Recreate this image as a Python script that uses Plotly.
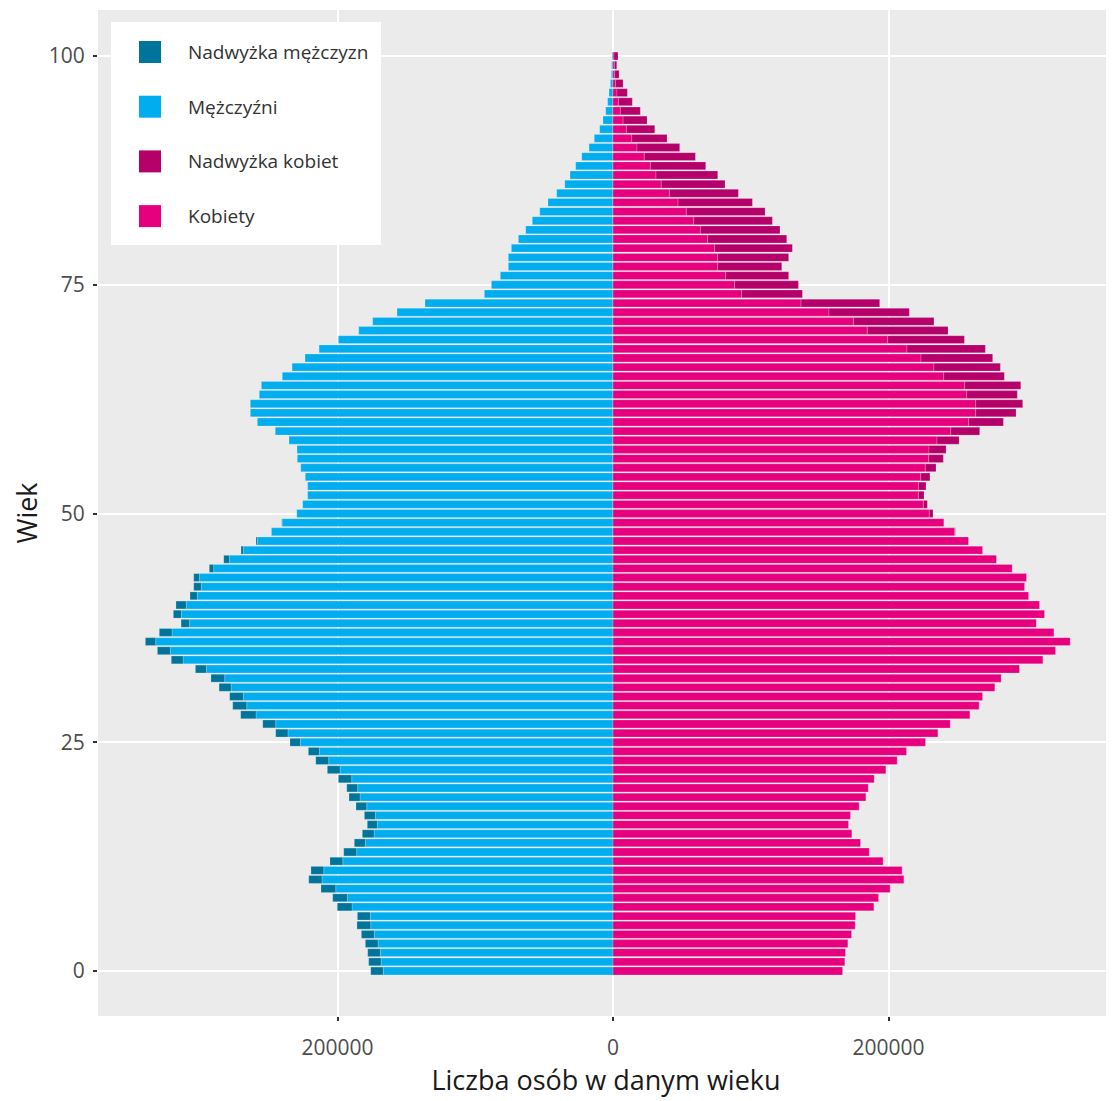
import plotly.graph_objects as go

ages = list(range(0, 101))

men = [175900, 177400, 178100, 179800, 182700, 185900, 185600, 200200, 203500, 212000,
       220900, 219300, 205500, 195500, 187800, 182000, 178400, 180500, 186600, 191700,
       193300, 199400, 207400, 215800, 221200, 234500, 244900, 254300, 270300, 276100,
       278300, 286000, 291900, 303200, 320700, 330800, 339500, 329400, 313600, 319200,
       317300, 307100, 304400, 304400, 293100, 282600, 270100, 259200, 248000, 240500,
       229600, 225300, 221700, 221700, 223400, 226700, 229200, 229400, 235200, 245200,
       258200, 263300, 263300, 256800, 255300, 240100, 233000, 223600, 213400, 199400,
       184600, 174500, 156800, 136500, 93400, 88300, 81800, 76000, 76000, 73800,
       68700, 63400, 58600, 53200, 47200, 40900, 35000, 31200, 27100, 22700,
       17400, 13600, 9700, 7300, 5300, 3900, 2900, 1900, 1200, 1000,
       700]

women = [166800, 168400, 168900, 170600, 173300, 175900, 176200, 189500, 192900, 201300,
         211300, 210000, 196200, 186100, 179800, 173500, 171100, 172500, 178800, 183700,
         185400, 189700, 198200, 206400, 213200, 227000, 236000, 244900, 259200, 265900,
         268400, 277300, 281900, 295200, 312200, 321400, 332000, 320200, 307400, 313400,
         309800, 301800, 298900, 300300, 289900, 278500, 268400, 258200, 248500, 240300,
         232300, 228200, 225800, 227200, 230100, 234500, 239800, 241800, 251200, 266200,
         283400, 292600, 297400, 293500, 296000, 284100, 281200, 275600, 270300, 255100,
         243200, 233000, 215100, 193600, 137500, 134600, 127500, 122500, 127500, 130200,
         126100, 121200, 115700, 110400, 101200, 91000, 81300, 76000, 67300, 59800,
         48400, 39200, 30300, 24700, 19800, 14000, 10400, 7300, 4400, 2700,
         3600]

x_tickvals = [-200000, 0, 200000]
x_ticktext = ["200000", "0", "200000"]
y_tickvals = [0, 25, 50, 75, 100]

series_names = ["Nadwyżka mężczyzn", "Mężczyźni", "Nadwyżka kobiet", "Kobiety"]
colors = {
    "Nadwyżka mężczyzn": "#00759C",
    "Mężczyźni": "#00AEEF",
    "Nadwyżka kobiet": "#B5006A",
    "Kobiety": "#E6007E",
}

base = [min(m, w) for m, w in zip(men, women)]
men_excess = [m - b for m, b in zip(men, base)]
women_excess = [w - b for w, b in zip(women, base)]

fig = go.Figure()
edge = "rgba(255,255,255,0.5)"
common = dict(orientation="h", width=0.86, showlegend=False,
              marker_line_width=0.4, marker_line_color=edge, hoverinfo="x+y+name")
fig.add_trace(go.Bar(y=ages, x=[-b for b in base], name="Mężczyźni",
                     marker_color=colors["Mężczyźni"], **common))
fig.add_trace(go.Bar(y=ages, x=[-e for e in men_excess], name="Nadwyżka mężczyzn",
                     marker_color=colors["Nadwyżka mężczyzn"], **common))
fig.add_trace(go.Bar(y=ages, x=base, name="Kobiety",
                     marker_color=colors["Kobiety"], **common))
fig.add_trace(go.Bar(y=ages, x=women_excess, name="Nadwyżka kobiet",
                     marker_color=colors["Nadwyżka kobiet"], **common))

# Page has an 8px body margin; plot area on screen spans x 98..1114, y 10..1016
OFF = 8
L, R, T, B = 98 - OFF, 1114 - OFF, 10 - OFF, 1016 - OFF
W, H = R - L, B - T
def px(x):
    return (x - OFF - L) / W
def py(y):
    return (B - (y - OFF)) / H

shapes = [dict(type="rect", xref="paper", yref="paper",
               x0=px(111), x1=px(381), y0=py(245), y1=py(22),
               fillcolor="white", line_width=0, layer="above")]
annotations = []
for i, name in enumerate(series_names):
    cy = 52 + i * 54.7
    shapes.append(dict(type="rect", xref="paper", yref="paper",
                       x0=px(139), x1=px(161), y0=py(cy + 11), y1=py(cy - 11),
                       fillcolor=colors[name], line_width=0, layer="above"))
    annotations.append(dict(xref="paper", yref="paper", x=px(186), y=py(cy),
                            xanchor="left", yanchor="middle", showarrow=False,
                            text=name, font=dict(size=19, color="#333333",
                                                 family="Open Sans")))

fig.update_layout(
    width=1106, height=1093,
    margin=dict(l=90, r=0, t=2, b=85),
    paper_bgcolor="white",
    plot_bgcolor="#EBEBEB",
    barmode="relative",
    bargap=0.14,
    font=dict(family="Open Sans", color="#1A1A1A"),
    shapes=shapes,
    annotations=annotations,
    xaxis=dict(
        range=[-373900, 363700],
        tickvals=x_tickvals, ticktext=x_ticktext,
        showgrid=True, gridcolor="white", gridwidth=2,
        zeroline=False,
        ticks="outside", ticklen=4, tickwidth=1.5, tickcolor="#333333",
        tickfont=dict(size=21, color="#4D4D4D"),
        ticklabelstandoff=9,
        automargin=False,
        title=dict(text="Liczba osób w danym wieku", font=dict(size=27, color="#1A1A1A"),
                   standoff=10),
    ),
    yaxis=dict(
        range=[-4.92, 105.03],
        tickvals=y_tickvals,
        showgrid=True, gridcolor="white", gridwidth=2,
        zeroline=False,
        ticks="outside", ticklen=4, tickwidth=1.5, tickcolor="#333333",
        tickfont=dict(size=21, color="#4D4D4D"),
        ticklabelstandoff=4,
        automargin=False,
        title=dict(text="Wiek", font=dict(size=27, color="#1A1A1A"), standoff=6),
    ),
)

fig.write_html("out.html")
